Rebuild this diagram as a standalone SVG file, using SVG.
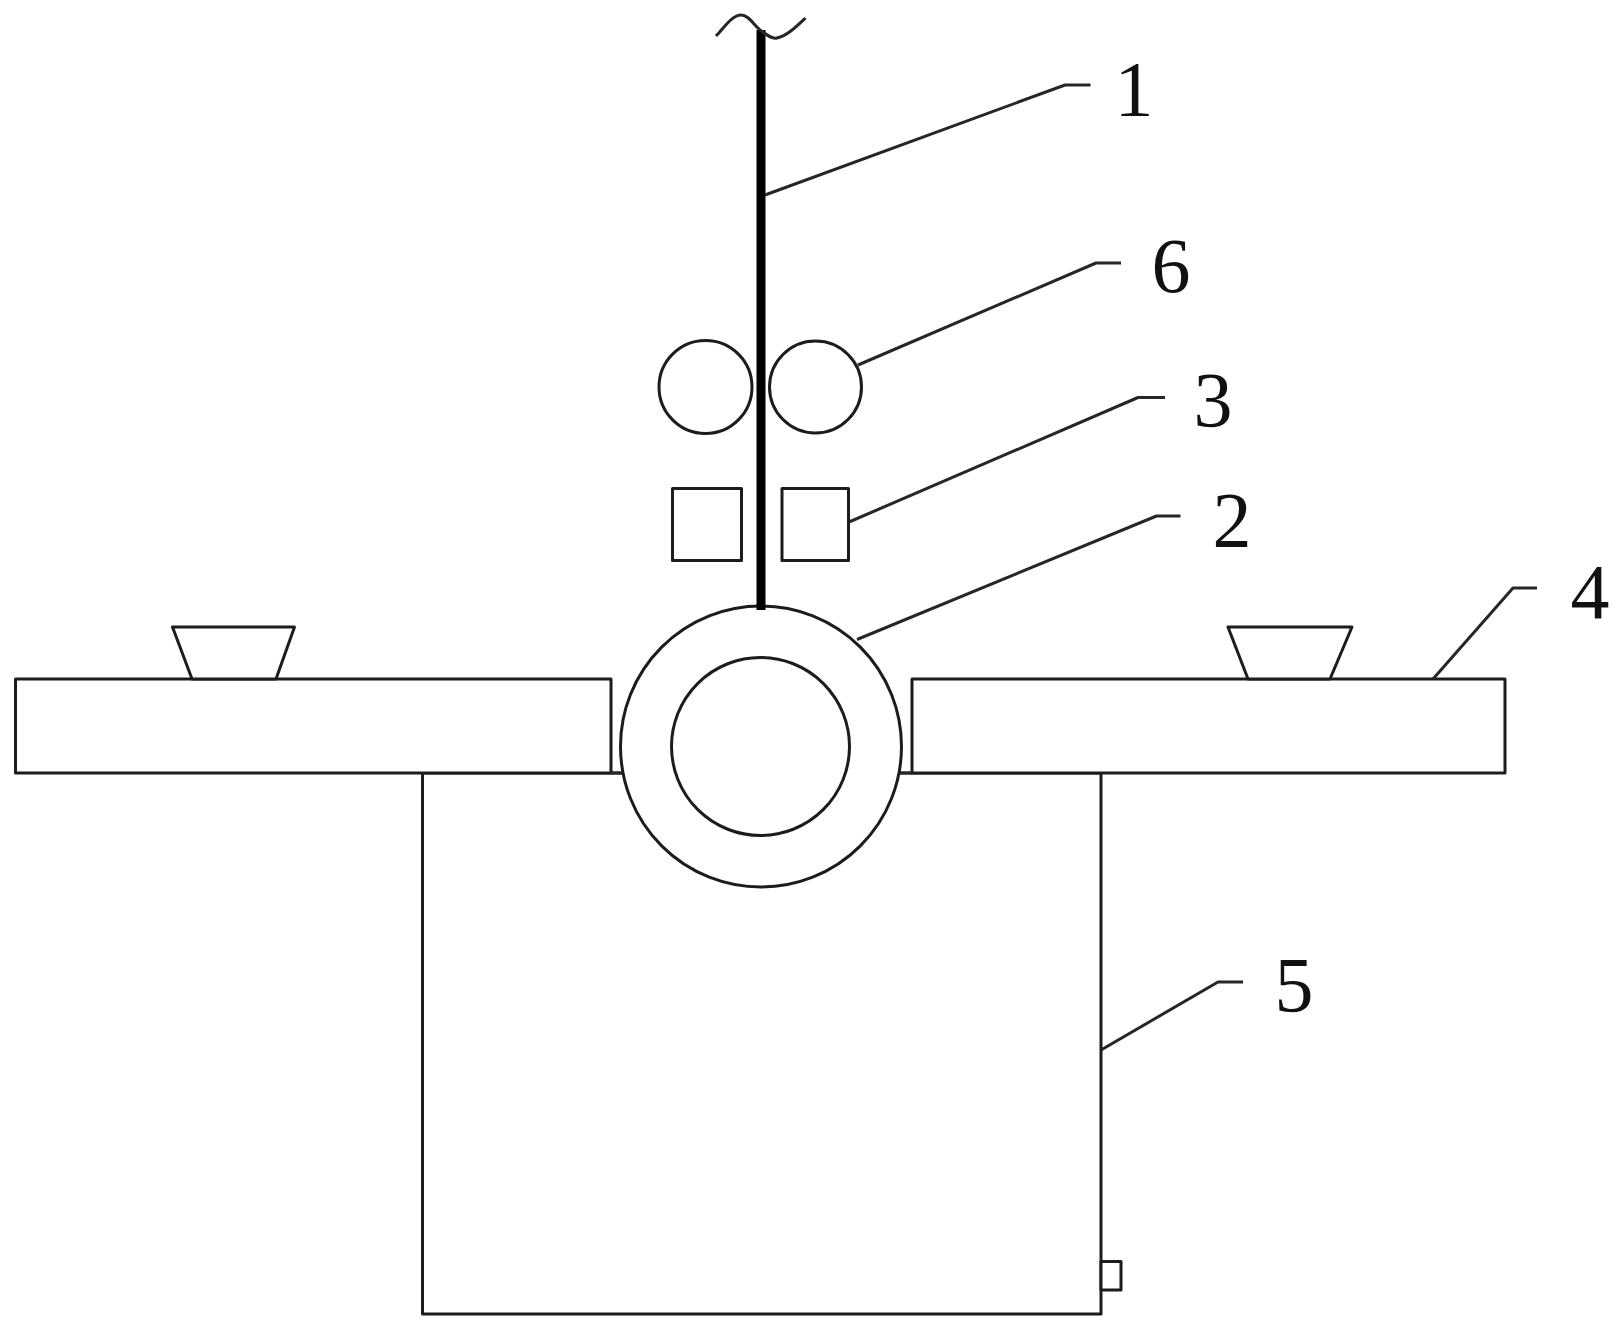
<svg xmlns="http://www.w3.org/2000/svg" width="1619" height="1331" viewBox="0 0 1619 1331">
<style>
.s{fill:#fff;stroke:#1c1c1c;stroke-width:3;stroke-linejoin:round}
.c{fill:none;stroke:#262626;stroke-width:3;stroke-linejoin:round}
.t{font-family:"Liberation Serif","Times New Roman",serif;font-size:78px;fill:#111;text-anchor:middle}
</style>
<rect width="1619" height="1331" fill="#fff"/>
<g id="node-5">
<rect class="s" x="422.500" y="773" width="678.500" height="541"/>
<rect class="s" x="1101" y="1261.500" width="20" height="28.500"/>
<text class="t" x="1294" y="1011">5</text>
</g>
<g id="node-4">
<rect class="s" x="15.500" y="679" width="595.500" height="94"/>
<rect class="s" x="912" y="679" width="593" height="94"/>
<polygon class="s" points="172.500,627 294.500,627 276,679 192,679"/>
<polygon class="s" points="1228,627 1352,627 1330,679 1248,679"/>
<path class="c" d="M611 773H623M898 773H912"/>
<text class="t" x="1590" y="618">4</text>
</g>
<g id="node-2">
<circle class="s" cx="761" cy="746.500" r="140.500"/>
<circle class="s" cx="760.500" cy="746.500" r="89"/>
<text class="t" x="1232" y="546">2</text>
</g>
<g id="node-1">
<rect x="756.500" y="30" width="9" height="580" fill="#000"/>
<path class="c" d="M716 36C724 28 732 15 741 15C750 15 755 28 763 32C768 36 772 39 777 38C787 36 797 26 805.500 18"/>
<text class="t" x="1134" y="115">1</text>
</g>
<g id="node-6">
<circle class="s" cx="705.500" cy="387" r="46.500"/>
<circle class="s" cx="815.500" cy="387" r="46"/>
<text class="t" x="1171" y="292">6</text>
</g>
<g id="node-3">
<rect class="s" x="672.500" y="488.500" width="69" height="72"/>
<rect class="s" x="782" y="488.500" width="66.500" height="72"/>
<text class="t" x="1213" y="426">3</text>
</g>
<g id="connectors">
<polyline class="c" points="765,195 1065,85 1090.500,85"/>
<polyline class="c" points="858,365 1096,263 1121,263"/>
<polyline class="c" points="849,522 1138,397.500 1165,397.500"/>
<polyline class="c" points="857,639.500 1156.500,516 1180.500,516"/>
<polyline class="c" points="1433,679 1513,588 1537,588"/>
<polyline class="c" points="1101,1050 1218,982 1243,982"/>
</g>
</svg>
